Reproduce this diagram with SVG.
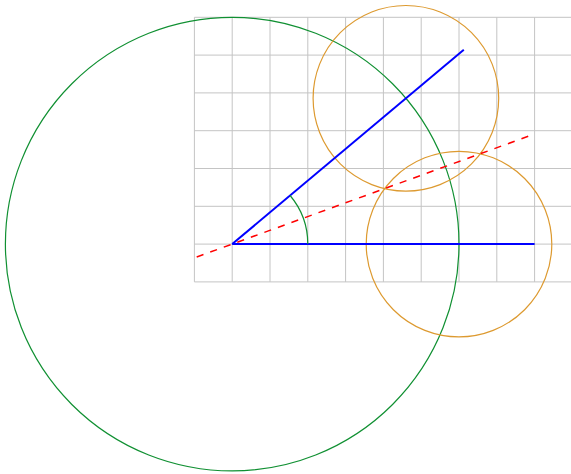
<svg xmlns="http://www.w3.org/2000/svg" width="571" height="474" viewBox="0 0 571 474">
<style>
.grid{stroke:#c4c4c4;stroke-width:1;fill:none}
.ray{stroke:#0000ff;stroke-width:2;fill:none;stroke-linecap:butt}
.green{stroke:#109032;stroke-width:1.2;fill:none}
.orange{stroke:#dd9a30;stroke-width:1.2;fill:none}
.bis{stroke:#ff0000;stroke-width:1.5;fill:none;stroke-dasharray:7.2 7.2}
</style>
<rect width="571" height="474" fill="#ffffff"/>
<g id="grid" class="grid">
<path d="M194.4 17.3V281.9M232.2 17.3V281.9M270 17.3V281.9M307.8 17.3V281.9M345.6 17.3V281.9M383.4 17.3V281.9M421.2 17.3V281.9M459 17.3V281.9M496.8 17.3V281.9M534.6 17.3V281.9"/>
<path d="M194.4 17.3H571M194.4 55.1H571M194.4 92.9H571M194.4 130.7H571M194.4 168.5H571M194.4 206.3H571M194.4 244.1H571M194.4 281.9H571"/>
</g>
<g id="circle-main"><circle class="green" cx="232.2" cy="244.1" r="226.8"/></g>
<g id="circle-a"><circle class="orange" cx="459" cy="244.1" r="92.8"/></g>
<g id="circle-b"><circle class="orange" cx="405.9" cy="98.3" r="92.8"/></g>
<g id="connectors">
<line id="ray-h" class="ray" x1="232.2" y1="244.1" x2="534.6" y2="244.1"/>
<line id="ray-40" class="ray" x1="232.2" y1="244.1" x2="463.8" y2="49.7"/>
<path id="angle-arc" class="green" stroke-width="1.6" d="M307.8 244.1A75.6 75.6 0 0 0 290.1 195.5"/>
<line id="bisector" class="bis" x1="196.7" y1="257" x2="530.7" y2="135.4"/>
</g>
</svg>
